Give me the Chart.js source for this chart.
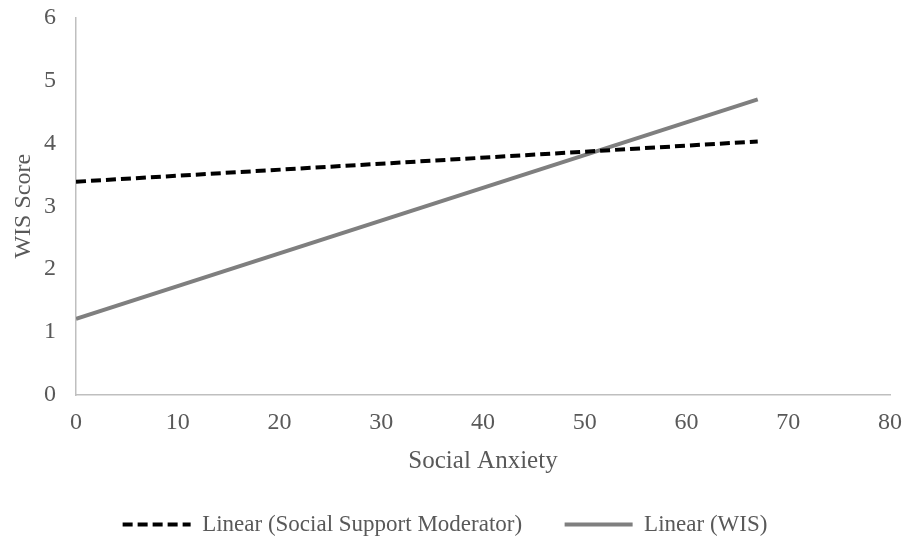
<!DOCTYPE html>
<html>
<head>
<meta charset="utf-8">
<script src="https://cdn.jsdelivr.net/npm/chart.js@4/dist/chart.umd.min.js"></script>
<style>
  html, body { margin: 0; padding: 0; background: #fff; }
  #wrap { width: 906px; height: 546px; }
</style>
</head>
<body>
<div id="wrap"><canvas id="chart"></canvas></div>
<script>
// values (trend line end points)
const anxiety = [0, 67]
const moderator = [3.39, 4.03]
const wis = [1.21, 4.70]
const xTicks = [0, 10, 20, 30, 40, 50, 60, 70, 80]
const yTicks = [0, 1, 2, 3, 4, 5, 6]

const toPoints = (xs, ys) => xs.map((x, i) => ({ x: x, y: ys[i] }))

const font = 'Liberation Serif'
const tickColor = '#595959'

const ctx = document.getElementById('chart')
const chart = new Chart(ctx, {
  type: 'line',
  data: {
    datasets: [{
      label: 'Linear (Social Support Moderator)',
      data: toPoints(anxiety, moderator),
      borderColor: '#000000',
      backgroundColor: '#000000',
      borderWidth: 4,
      borderDash: [10, 5],
      pointRadius: 0,
      fill: false
    }, {
      label: 'Linear (WIS)',
      data: toPoints(anxiety, wis),
      borderColor: '#7f7f7f',
      backgroundColor: '#7f7f7f',
      borderWidth: 4,
      pointRadius: 0,
      fill: false
    }]
  },
  options: {
    responsive: true,
    maintainAspectRatio: false,
    animation: false,
    layout: {
      padding: { left: 0, right: 16, top: 17.5, bottom: 0 }
    },
    plugins: {
      tooltip: { enabled: false },
      legend: {
        position: 'bottom',
        labels: {
          usePointStyle: true,
          pointStyle: 'line',
          pointStyleWidth: 68,
          padding: 8,
          color: tickColor,
          font: { family: font, size: 23 },
          // legend samples should look like the lines (dash, width)
          generateLabels: (ch) => ch.data.datasets.map((ds, i) => ({
            text: i === 0 ? ds.label + '      ' : ds.label,
            fillStyle: ds.borderColor,
            strokeStyle: ds.borderColor,
            lineWidth: ds.borderWidth,
            lineDash: ds.borderDash || [],
            pointStyle: 'line',
            fontColor: tickColor,
            hidden: false,
            datasetIndex: i
          }))
        }
      }
    },
    scales: {
      x: {
        type: 'linear',
        min: 0,
        max: 80,
        afterBuildTicks: (scale) => { scale.ticks = xTicks.map(v => ({ value: v })) },
        afterFit: (scale) => {
          scale.height = 110
          // tick padding would otherwise eat into the plot width
          scale.paddingLeft = 0
          scale.paddingRight = 0
        },
        grid: { display: false, drawTicks: false },
        border: { display: true, color: '#bfbfbf', width: 1.5 },
        ticks: { color: tickColor, padding: 13, maxRotation: 0, font: { family: font, size: 24 } },
        title: {
          display: true,
          text: 'Social Anxiety',
          color: tickColor,
          padding: { top: 0, bottom: 29 },
          font: { family: font, size: 25 }
        }
      },
      y: {
        min: 0,
        max: 6,
        afterBuildTicks: (scale) => { scale.ticks = yTicks.map(v => ({ value: v })) },
        afterFit: (scale) => {
          scale.width = 76
          scale.paddingTop = 0
          scale.paddingBottom = 0
        },
        grid: { display: false, drawTicks: false },
        border: { display: true, color: '#bfbfbf', width: 1.5 },
        ticks: { color: tickColor, padding: 20, font: { family: font, size: 24 } },
        title: {
          display: true,
          text: 'WIS Score',
          color: tickColor,
          padding: { top: 9, bottom: 0 },
          font: { family: font, size: 24 }
        }
      }
    }
  }
})
</script>
</body>
</html>
